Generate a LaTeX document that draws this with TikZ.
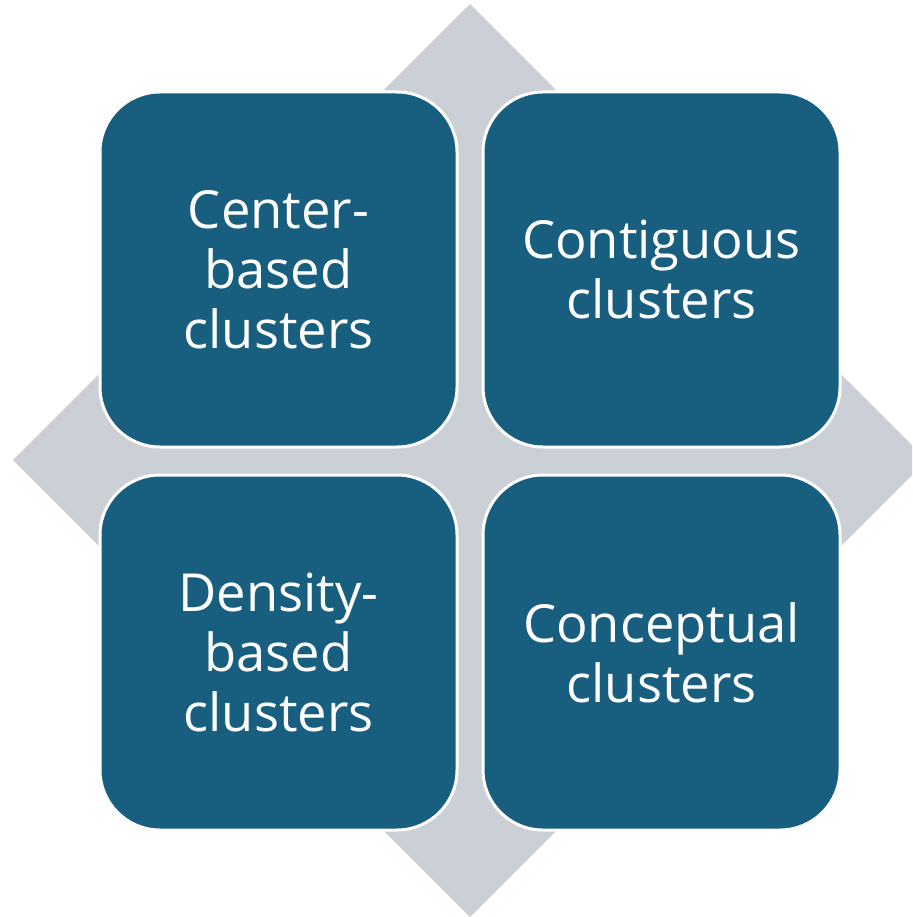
\documentclass[tikz,border=0pt]{standalone}
\usepackage{fontspec}
\setmainfont{Open Sans}
\definecolor{boxteal}{HTML}{175E7F}
\definecolor{diamgray}{HTML}{CBD0D6}
\begin{document}
\begin{tikzpicture}[x=1pt,y=-1pt,
  box/.style={rectangle, rounded corners=60pt, minimum width=357pt, minimum height=355pt,
    fill=boxteal, draw=white, line width=3pt, text=white, align=center, inner sep=0pt,
    font=\fontsize{52.5}{60}\selectfont}]
\useasboundingbox (0,0) rectangle (912,917);
\begin{scope}
\clip (0,0) rectangle (912,917);
\fill[diamgray] (470,4) -- (927,460) -- (470,917) -- (13,460) -- cycle;
\end{scope}
\node[box] (cb) at (278.5,269.5) {Center-\\based\\clusters};
\node[box] (cg) at (661.5,269.5) {Contiguous\\clusters};
\node[box] (db) at (278.5,652.5) {Density-\\based\\clusters};
\node[box] (cc) at (661.5,652.5) {Conceptual\\clusters};
\end{tikzpicture}
\end{document}
